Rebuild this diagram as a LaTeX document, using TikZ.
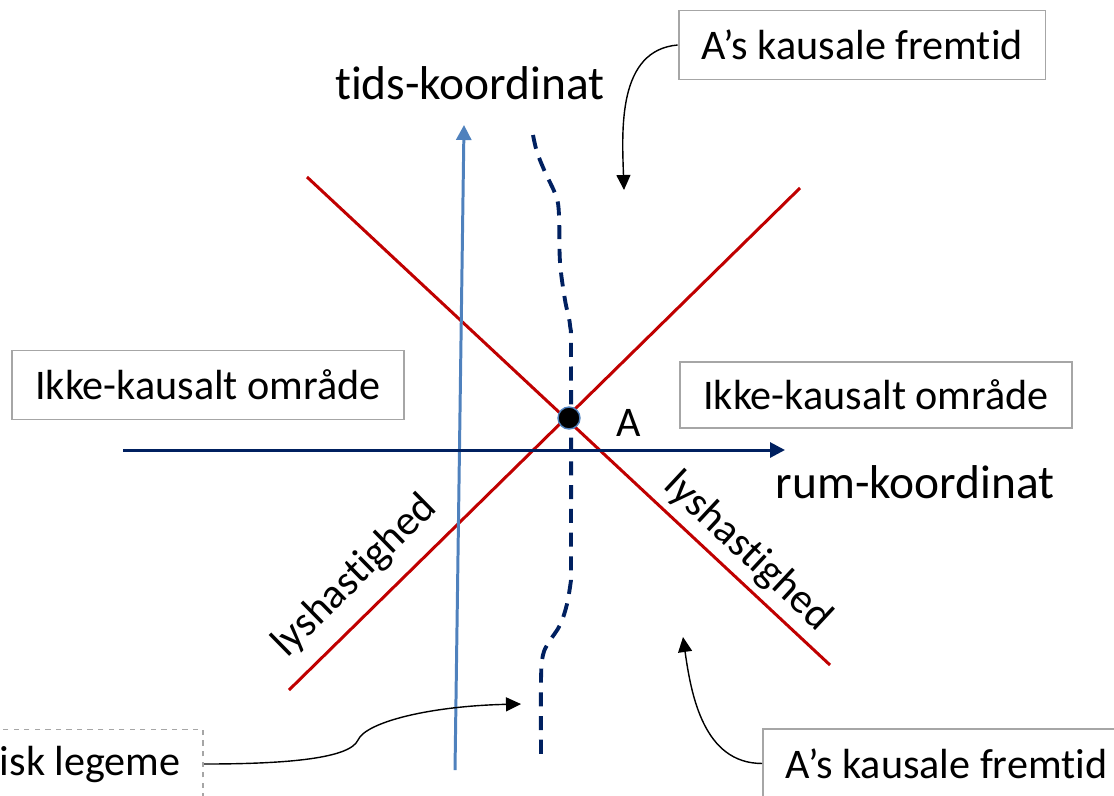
\documentclass[tikz,border=0pt]{standalone}
\usepackage{fontspec}
\setmainfont{Carlito}[Ligatures=NoCommon]
\usetikzlibrary{arrows.meta, positioning}

\definecolor{lysrod}{HTML}{C00000}
\definecolor{morkblaa}{HTML}{002060}
\definecolor{tidsblaa}{HTML}{4F81BD}
\definecolor{kantgraa}{HTML}{A6A6A6}

\begin{document}
\begin{tikzpicture}[
    x=0.02cm, y=-0.02cm,
    every node/.style={font=\fontsize{24}{28}\selectfont},
    infobox/.style={draw=kantgraa, fill=white, line width=1.1pt, rectangle, minimum height=1.38cm, align=center},
    aksetekst/.style={font=\fontsize{27}{32}\selectfont},
    lyslinje/.style={draw=lysrod, line width=1.7pt},
    akse/.style={line width=1.7pt, -{Triangle[length=0.3cm, width=0.3cm]}},
    pil/.style={line width=0.8pt, -{Triangle[length=0.3cm, width=0.28cm]}}
]
\useasboundingbox (0,0) rectangle (1114,795);
\clip (0,0) rectangle (1114,795);

% lyskeglen
\draw [lyslinje] (307,177) -- (830,665);
\draw [lyslinje] (289,690) -- (800,188);

% akser
\draw [akse, draw=tidsblaa, fill=tidsblaa] (455,770) -- (464,125);
\draw [akse, draw=morkblaa, fill=morkblaa] (123,450) -- (785,450);

% verdenslinje for legemet
\draw [morkblaa, line width=2.2pt, dash pattern=on 8pt off 5.5pt]
    plot [smooth, tension=0.6] coordinates {(533,135) (537,152) (545,172) (556,196) (559,215) (560,262) (565,300) (570,325) (571,360) (571,580)}
    plot [smooth, tension=0.6] coordinates {(571,580) (567,604) (560,625) (549,642) (543,655) (541,680) (541,757)};

% punktet A
\node (A) [circle, fill=black, draw=tidsblaa, line width=0.8pt, minimum size=0.44cm, inner sep=0pt] at (569,418) {};
\node (Alabel) [right=0.6cm of A, yshift=-0.1cm] {A};

% tekster
\node (tids) [aksetekst] at (470,83) {tids-koordinat};
\node (rum) [aksetekst] at (915,482) {rum-koordinat};
\node (lysv) [rotate=44.5] at (355,576) {lyshastighed};
\node (lysh) [rotate=-43] at (748,552) {lyshastighed};

% kasser
\node (ikkev) [infobox, minimum width=7.84cm] at (208,385) {Ikke-kausalt område};
\node (ikkeh) [infobox, minimum width=7.84cm, minimum height=1.32cm] at (876,395) {Ikke-kausalt område};
\node (frem) [infobox, minimum width=7.34cm] at (862,45) {A’s kausale fremtid};
\node (fortid) [infobox, anchor=north west, minimum width=7.34cm] at (762,728) {A’s kausale fremtid};
\node (legeme) [infobox, dashed, anchor=east, inner xsep=0.45cm] at (204,764) {\hspace*{1.6cm}isk legeme};

% pile
\coordinate (fremspids) at (624,190);
\coordinate (fortidspids) at (683,637);
\coordinate (legemespids) at (521,704);
\draw [pil] (frem.west) to[out=185, in=92] (fremspids);
\draw [pil] (fortid.west) to[out=180, in=-82] (fortidspids);
\draw [pil] (legeme.east) .. controls (290,764) and (350,758) .. (358,740) .. controls (366,722) and (430,706) .. (legemespids);

\end{tikzpicture}
\end{document}
